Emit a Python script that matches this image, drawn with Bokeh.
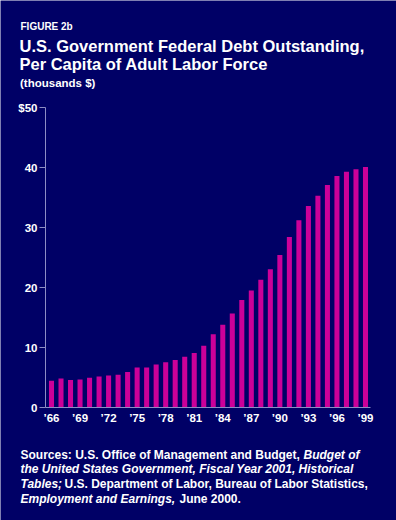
from bokeh.plotting import figure
from bokeh.models import Range1d, FixedTicker, ColumnDataSource, LinearAxis
from bokeh.core.properties import value
from bokeh.embed import file_html
from bokeh.resources import INLINE

# ---- data ----
years = list(range(1966, 2000))
debt_per_capita = [4.44, 4.83, 4.60, 4.67, 4.94, 5.17, 5.33, 5.44, 5.90, 6.67,
                   6.67, 7.17, 7.56, 7.90, 8.47, 9.10, 10.28, 12.20, 13.80, 15.67,
                   17.90, 19.50, 21.30, 23.06, 25.40, 28.40, 31.20, 33.60, 35.30, 37.10,
                   38.60, 39.30, 39.70, 40.10]
x_tick_years = [1966, 1969, 1972, 1975, 1978, 1981, 1984, 1987, 1990, 1993, 1996, 1999]
x_tick_labels = ["\u201966", "\u201969", "\u201972", "\u201975", "\u201978", "\u201981",
                 "\u201984", "\u201987", "\u201990", "\u201993", "\u201996", "\u201999"]
y_ticks = [0, 10, 20, 30, 40, 50]
y_tick_labels = ["0", "10", "20", "30", "40", "$50"]

BG = "#000066"
BAR = "#CC0099"
AXIS = "#8C8CC4"
FONT = "Liberation Sans"

W, H = 396, 520
# pixel geometry of the plotting area
PX_LEFT, PX_RIGHT = 45, 370
PX_TOP, PX_ZERO = 107, 407
YEAR_FIRST_PX = 51.0
PX_PER_YEAR = 9.515
Y_MAX = 50
PX_PER_UNIT = (PX_ZERO - PX_TOP) / Y_MAX


def xdata(px):
    return years[0] + (px - YEAR_FIRST_PX) / PX_PER_YEAR


def ydata(py):
    return (PX_ZERO - py) / PX_PER_UNIT


p = figure(width=W, height=H, output_backend="svg", toolbar_location=None,
           x_range=Range1d(xdata(0), xdata(W)), y_range=Range1d(ydata(H), ydata(0)),
           x_axis_location=None, y_axis_location=None,
           min_border=0, min_border_left=0, min_border_right=0,
           min_border_top=0, min_border_bottom=0)
p.background_fill_color = BG
p.border_fill_color = BG
p.outline_line_color = None
p.grid.visible = False

p.extra_x_ranges = {"px": Range1d(0, W)}
p.extra_y_ranges = {"px": Range1d(H, 0)}

src = ColumnDataSource(dict(x=years, top=debt_per_capita))
p.vbar(x="x", top="top", bottom=0, width=0.53, source=src,
       fill_color=BAR, line_color=None)

xa = LinearAxis(fixed_location=0, bounds=(xdata(PX_LEFT), xdata(PX_RIGHT)))
xa.ticker = FixedTicker(ticks=x_tick_years)
xa.major_label_overrides = {y: l for y, l in zip(x_tick_years, x_tick_labels)}
xa.major_tick_out = 0
xa.major_tick_in = 0
xa.minor_tick_line_color = None
xa.axis_line_color = AXIS
xa.major_label_standoff = 4
xa.major_label_text_color = "white"
xa.major_label_text_font = FONT
xa.major_label_text_font_style = "bold"
xa.major_label_text_font_size = "11.5px"
p.add_layout(xa, "below")

ya = LinearAxis(fixed_location=xdata(PX_LEFT), bounds=(0, Y_MAX))
ya.ticker = FixedTicker(ticks=y_ticks)
ya.major_label_overrides = {v: l for v, l in zip(y_ticks, y_tick_labels)}
ya.major_tick_out = 6
ya.major_tick_in = 0
ya.minor_tick_line_color = None
ya.axis_line_color = AXIS
ya.major_tick_line_color = AXIS
ya.major_label_standoff = 2
ya.major_label_text_color = "white"
ya.major_label_text_font = FONT
ya.major_label_text_font_style = "bold"
ya.major_label_text_font_size = "11.5px"
p.add_layout(ya, "left")

texts = [
    ("FIGURE 2b", 20, 26, "10px", "bold"),
    ("U.S. Government Federal Debt Outstanding,", 19, 45.5, "16.5px", "bold"),
    ("Per Capita of Adult Labor Force", 19, 63.3, "16.5px", "bold"),
    ("(thousands $)", 19.5, 82.5, "11.5px", "bold"),
    ("Sources: U.S. Office of Management and Budget,", 20, 454, "12px", "bold"),
    ("Budget of", 303, 454, "12px", "bold italic"),
    ("the United States Government, Fiscal Year 2001, Historical", 20, 468.7, "12px", "bold italic"),
    ("Tables;", 20, 483.3, "12px", "bold italic"),
    ("U.S. Department of Labor, Bureau of Labor Statistics,", 64, 483.3, "12px", "bold"),
    ("Employment and Earnings,", 20, 498, "12px", "bold italic"),
    ("June 2000.", 179, 498, "12px", "bold"),
]
for txt, x, y, size, style in texts:
    p.text(x=[x], y=[y], text=[txt], x_range_name="px", y_range_name="px",
           text_color="white", text_font=value(FONT), text_font_style=value(style),
           text_font_size=value(size), text_align="left", text_baseline="alphabetic")

open("out.html", "w").write(file_html(p, INLINE))
